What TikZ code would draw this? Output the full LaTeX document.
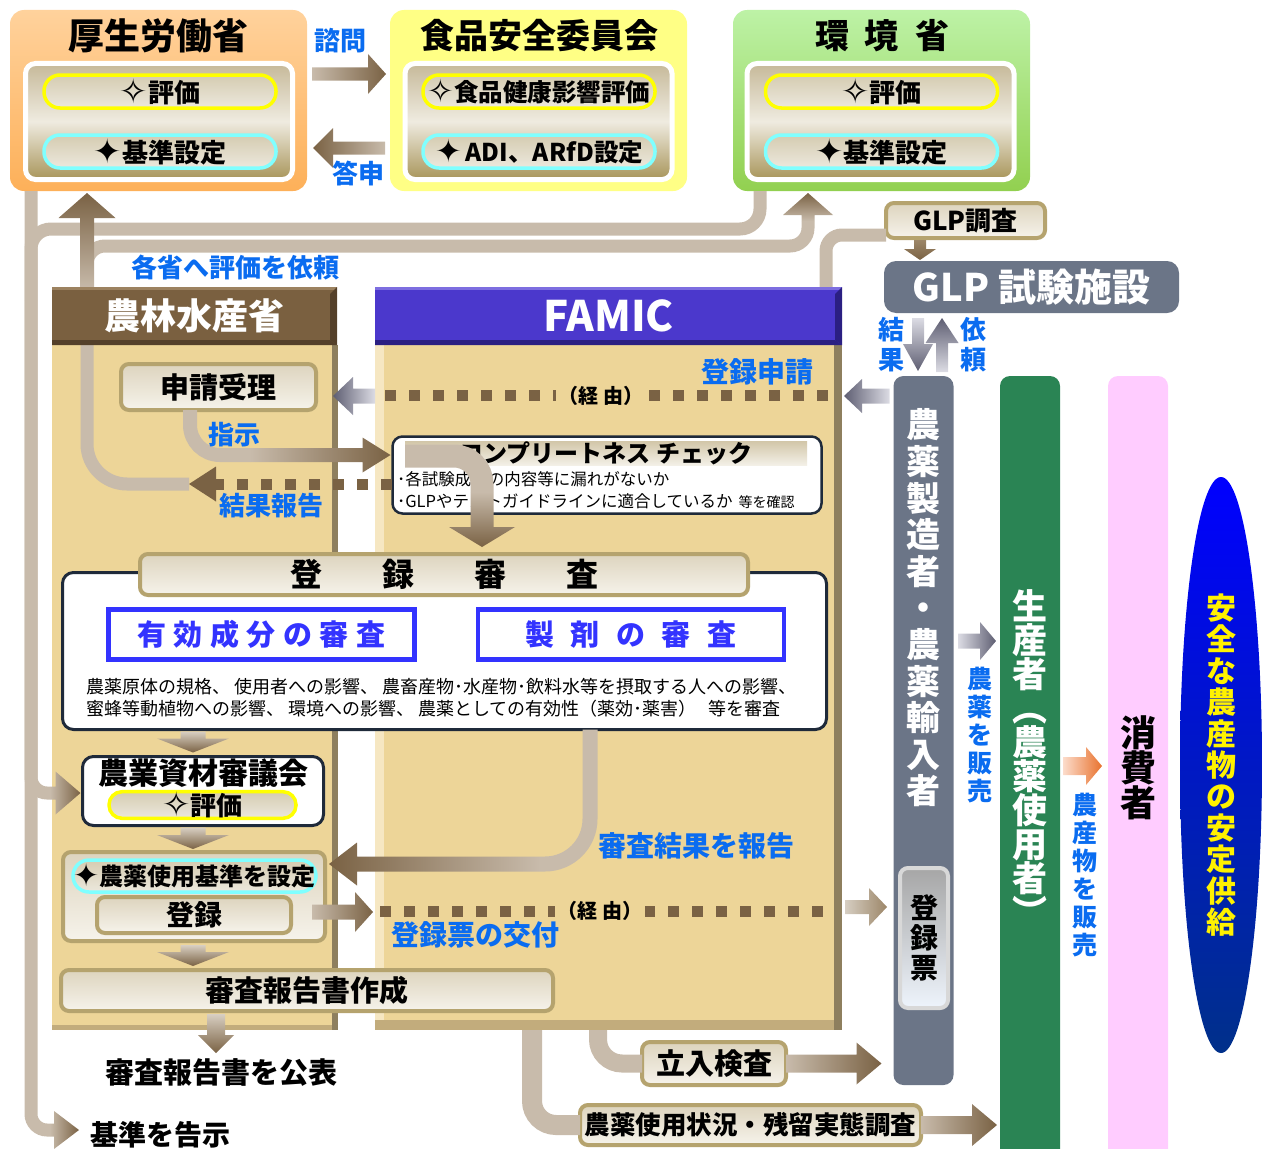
\documentclass[tikz,border=0pt]{standalone}
\usepackage{graphicx}
\usepackage{fontspec}
\setmainfont{Noto Sans CJK JP}
\newfontfamily\dingfont{DejaVu Sans}
\usetikzlibrary{
	arrows.meta,
	positioning,
	shapes.geometric,
	calc,
}
\definecolor{OrangeTop}{HTML}{FFD29C}
\definecolor{OrangeBot}{HTML}{FDB059}
\definecolor{YellowBox}{HTML}{FFFF85}
\definecolor{GreenTop}{HTML}{BDF2A6}
\definecolor{GreenBot}{HTML}{92D050}
\definecolor{PanelTop}{HTML}{C6B999}
\definecolor{PanelMid}{HTML}{EFEBE0}
\definecolor{PanelBot}{HTML}{A8955A}
\definecolor{PillTop}{HTML}{D5CCB1}
\definecolor{PillBot}{HTML}{ECE8DD}
\definecolor{PillYellow}{HTML}{FFFF00}
\definecolor{PillCyan}{HTML}{80FFFF}
\definecolor{TriTop}{HTML}{B9AB92}
\definecolor{TriBot}{HTML}{7C6850}
\definecolor{PlateEdge}{HTML}{B5A36E}
\definecolor{PlateTop}{HTML}{DDD4BE}
\definecolor{PlateBot}{HTML}{F6F3EB}
\definecolor{StripTop}{HTML}{D2C6A8}
\definecolor{StripBot}{HTML}{F3F0E7}
\definecolor{BandTan}{HTML}{C8BBAB}
\definecolor{SmallTop}{HTML}{D8CFC2}
\definecolor{ArrowBrown}{HTML}{7A6244}
\definecolor{DotBrown}{HTML}{7A6244}
\definecolor{LabelBlue}{HTML}{0A6CF0}
\definecolor{BodyTan}{HTML}{EDD598}
\definecolor{BodyLight}{HTML}{F6E7C2}
\definecolor{BodyShadow}{HTML}{8E7F5E}
\definecolor{BodyEdge}{HTML}{C2AC7C}
\definecolor{HeadBrown}{HTML}{7A6040}
\definecolor{HeadLight}{HTML}{9C8260}
\definecolor{HeadDark}{HTML}{54402A}
\definecolor{FamicPurple}{HTML}{4B38CC}
\definecolor{FamicLight}{HTML}{7D6EE0}
\definecolor{FamicDark}{HTML}{2B1F82}
\definecolor{BoxLine}{HTML}{1F2A3A}
\definecolor{ReviewBlue}{HTML}{3333FF}
\definecolor{GrayBar}{HTML}{6B7587}
\definecolor{GrayLight}{HTML}{DCDCE4}
\definecolor{GrayDark}{HTML}{5E5E72}
\definecolor{GreenBar}{HTML}{2A8454}
\definecolor{PinkBar}{HTML}{FFCCFF}
\definecolor{EllTop}{HTML}{0000FF}
\definecolor{EllBot}{HTML}{00308A}
\definecolor{OrangeLight}{HTML}{FCDCCB}
\definecolor{OrangeDark}{HTML}{E8722E}
\definecolor{TicketRim}{HTML}{D8D8D8}
\definecolor{TicketTop}{HTML}{A6A6A6}
\definecolor{TicketBot}{HTML}{EEF4FC}
\definecolor{TicketArrowL}{HTML}{D6CEC2}
\definecolor{TicketArrowR}{HTML}{9C8668}
\newcommand{\fsz}[2]{\fontsize{#1}{#2}\selectfont}
\newcommand{\tightlines}{\lineskiplimit=-40pt\relax}
\newcommand{\wstar}{\raisebox{-1pt}{\scalebox{1.3}{\dingfont\bfseries ✧}}}
\newcommand{\bstar}{\raisebox{-1pt}{\scalebox{1.3}{\dingfont\bfseries ✦}}}

\begin{document}
\begin{tikzpicture}[x=1pt,y=-1pt,
        every node/.style={align=center,inner sep=0pt,outer sep=0pt},
        ministry/.style={rounded corners=14pt,minimum width=297pt,minimum height=181pt},
        headline/.style={font=\bfseries\fsz{36}{40}},
        panel/.style={rounded corners=10pt,draw=white,line width=5pt,top color=PanelTop,bottom color=PanelBot,middle color=PanelMid,minimum width=267pt,minimum height=116pt},
        pill/.style={rounded corners=16pt,line width=3.5pt,top color=PillTop,bottom color=PillBot,minimum width=232pt,minimum height=33pt,font=\bfseries\fsz{26}{30}},
        evalpill/.style={pill,draw=PillYellow},
        stdpill/.style={pill,draw=PillCyan},
        plate/.style={rounded corners=8pt,draw=PlateEdge,line width=4pt,top color=PlateTop,bottom color=PlateBot,font=\bfseries\fsz{29}{32}},
        body/.style={fill=BodyTan,minimum height=685pt},
        whitebox/.style={draw=BoxLine,line width=3pt,rounded corners=11pt,fill=white},
        bluebox/.style={draw=ReviewBlue,line width=4.5pt,fill=white,minimum width=306pt,minimum height=50pt,text=ReviewBlue,font=\bfseries\fsz{29}{32}},
        bar/.style={rounded corners=10pt,minimum width=60pt},
        vtext/.style={font=\bfseries\fsz{34}{36.6}},
        lbl/.style={text=LabelBlue,font=\bfseries\fsz{26}{30}},
        via/.style={fill=BodyTan,inner xsep=3pt,inner ysep=2pt,font=\bfseries\fsz{20}{24}},
        band/.style={draw=BandTan,line width=13pt},
        dots/.style={draw=DotBrown,line width=11pt,dash pattern=on 11pt off 13pt},
        blockto/.style n args={3}{to path={let \p1=(\tikztostart),\p2=(\tikztotarget),\p3=($(\p2)!#3!(\p1)$) in
            ($(\p1)!#1!90:(\p2)$) -- ($(\p3)!#1!-90:(\p1)$) -- ($(\p3)!#2!-90:(\p1)$) -- (\p2)
            -- ($(\p3)!#2!90:(\p1)$) -- ($(\p3)!#1!90:(\p1)$) -- ($(\p1)!#1!-90:(\p2)$) -- cycle}}
    ]
    \useasboundingbox (0,0) rectangle (1263,1148);

    % ministries on top
    \node at (158.5,100.5) [ministry,top color=OrangeTop,bottom color=OrangeBot] (mhlw) {};
    \node at (158,36) [headline] (mhlwT) {厚生労働省};
    \node at (159,121.5) [panel] (mhlwP) {};
    \node at (160,91.5) [evalpill] (mhlwE) {\wstar{}評価};
    \node at (160,151.5) [stdpill] (mhlwS) {\bstar{}基準設定};
    \shade[top color=TriTop,bottom color=TriBot] ($(mhlwE.south)+(0,7)$) to[blockto={0pt}{29pt}{13pt}] ($(mhlwE.south)+(0,20)$);

    \node at (538.5,100.5) [ministry,fill=YellowBox] (fsc) {};
    \node at (539,36) [headline,font=\bfseries\fsz{34}{38}] (fscT) {食品安全委員会};
    \node at (538.5,121.5) [panel] (fscP) {};
    \node at (539,91.5) [evalpill,font=\bfseries\fsz{24.5}{28}] (fscE) {\wstar{}食品健康影響評価};
    \node at (539,151.5) [stdpill,font=\bfseries\fsz{24.5}{28}] (fscS) {\bstar\,ADI、ARfD設定};
    \shade[top color=TriTop,bottom color=TriBot] ($(fscE.south)+(0,7)$) to[blockto={0pt}{29pt}{13pt}] ($(fscE.south)+(0,20)$);

    \node at (881.5,100.5) [ministry,top color=GreenTop,bottom color=GreenBot] (moe) {};
    \node at (882,36) [headline,font=\bfseries\fsz{34}{38}] (moeT) {環\hspace{16pt}境\hspace{16pt}省};
    \node at (880.5,121.5) [panel] (moeP) {};
    \node at (881.5,91.5) [evalpill] (moeE) {\wstar{}評価};
    \node at (881.5,151.5) [stdpill] (moeS) {\bstar{}基準設定};
    \shade[top color=TriTop,bottom color=TriBot] ($(moeE.south)+(0,7)$) to[blockto={0pt}{29pt}{13pt}] ($(moeE.south)+(0,20)$);

    \node at (340,41) [lbl] (askL) {諮問};
    \node at (358,174) [lbl] (ansL) {答申};
    \shade[left color=BandTan,right color=ArrowBrown] ($(mhlw.east)+(5,-26.5)$) to[blockto={6.5pt}{20pt}{18pt}] ($(fsc.west)+(-4,-26.5)$);
    \shade[left color=ArrowBrown,right color=BandTan] ($(fsc.west)+(-5,47.5)$) to[blockto={6.5pt}{20pt}{20pt}] ($(mhlw.east)+(6,47.5)$);

    % bodies of MAFF and FAMIC
    \node at (195,687.5) [body,minimum width=286pt] (maffB) {};
    \node at (608.5,687.5) [body,minimum width=467pt] (famicB) {};
    \fill[BodyShadow] ($(maffB.north east)+(-6,0)$) rectangle (maffB.south east);
    \fill[BodyEdge] ($(maffB.south west)+(0,-5)$) rectangle ($(maffB.south east)+(-6,0)$);
    \fill[BodyLight] (famicB.north west) rectangle ($(famicB.south west)+(9,0)$);
    \fill[BodyShadow] ($(famicB.north east)+(-8,0)$) rectangle (famicB.south east);
    \fill[BodyEdge] ($(famicB.south west)+(0,-10)$) rectangle ($(famicB.south east)+(-8,0)$);

    \node at (965.5,220.5) [plate,minimum width=159pt,minimum height=35pt,font=\bfseries\fsz{26}{28}] (glpc) {GLP調査};

    % bands between the ministries
    \coordinate (mhlwOut) at ($(mhlw.south west)+(21,0)$);
    \coordinate (mhlwIn) at ($(mhlw.south west)+(77,2)$);
    \coordinate (moeOut) at ($(moe.south west)+(27,0)$);
    \coordinate (moeIn) at ($(moe.south west)+(75,2)$);
    \coordinate (upA) at (87,290);
    \coordinate (moeTurn) at (808,246);
    \coordinate (moeUp) at (808,221);
    \coordinate (leftJoin) at (31,229);
    \coordinate (leftDown) at (31,300);
    \coordinate (retTip) at (189,484);
    \coordinate (shingiS) at (50,793);
    \coordinate (kokujiS) at (50,1130);
    \coordinate (kokujiT) at (79,1130);
    \coordinate (glpS) at (826,290);
    \draw[band,rounded corners=40pt] (retTip) -| (upA);
    \draw[band,rounded corners=18pt] (upA) |- (moeTurn) -- (moeUp);
    \draw[band,rounded corners=20pt] (moeOut) |- (leftJoin) -- (leftDown);
    \draw[band,rounded corners=16pt] (mhlwOut) |- (kokujiS);
    \draw[band,rounded corners=16pt] (leftDown) |- (shingiS);
    \draw[band,rounded corners=16pt] (glpS) |- ($(glpc.west)+(0,14.5)$);
    \shade[top color=ArrowBrown,bottom color=BandTan] (upA) to[blockto={7pt}{28.5pt}{25pt}] (mhlwIn);
    \shade[top color=ArrowBrown,bottom color=BandTan] (moeUp) to[blockto={6.5pt}{25pt}{22pt}] (moeIn);
    \shade[left color=BandTan,right color=ArrowBrown] (kokujiS) to[blockto={6.5pt}{19pt}{25pt}] (kokujiT);
    \node at (235,268) [lbl] (askAll) {各省へ評価を依頼};

    % headers
    \node at (194.5,316) [minimum width=285pt,minimum height=58pt,fill=HeadBrown,text=white,font=\bfseries\fsz{36}{40}] (maffH) {農林水産省};
    \fill[HeadLight] (maffH.north west) rectangle ($(maffH.north east)+(0,3)$);
    \fill[HeadDark] (maffH.north east) -- (maffH.south east) -- ($(maffH.south east)+(-7,-5)$) -- ($(maffH.north east)+(-7,7)$) -- cycle;
    \fill[HeadDark] (maffH.south west) -- (maffH.south east) -- ($(maffH.south east)+(-7,-5)$) -- ($(maffH.south west)+(0,-5)$) -- cycle;
    \node at (608.5,316) [minimum width=467pt,minimum height=58pt,fill=FamicPurple,text=white,font=\bfseries\fsz{42}{46}] (famicH) {FAMIC};
    \fill[FamicLight] (famicH.north west) rectangle ($(famicH.north east)+(0,3)$);
    \fill[FamicDark] (famicH.north east) -- (famicH.south east) -- ($(famicH.south east)+(-7,-5)$) -- ($(famicH.north east)+(-7,7)$) -- cycle;
    \fill[FamicDark] (famicH.south west) -- (famicH.south east) -- ($(famicH.south east)+(-7,-5)$) -- ($(famicH.south west)+(0,-5)$) -- cycle;

    % application
    \node at (218.5,387) [plate,minimum width=195pt,minimum height=46pt] (juri) {申請受理};
    \draw[dots] ($(famicB.north east)+(-14,50)$) -- ($(famicB.north west)+(10,50)$);
    \node at (601,396) [via] (via1) {（経 由）};
    \node at (757,372) [lbl,font=\bfseries\fsz{28}{30}] (regL) {登録申請};
    \shade[left color=GrayDark,right color=GrayLight] ($(famicB.north west)+(0,51)$) to[blockto={7.5pt}{19pt}{20pt}] ($(juri.east)+(17,9)$);

    % completeness check
    \node at (607,475) [whitebox,line width=2.5pt,rounded corners=10pt,minimum width=429pt,minimum height=77pt] (comp) {};
    \node at (606,453) [top color=StripTop,bottom color=StripBot,minimum width=402pt,minimum height=24pt,font=\bfseries\fsz{24}{26}] (compTitle) {コンプリートネス チェック};
    \node at (397,479) [anchor=west,font=\fsz{16.5}{20}] (compL1) {･各試験成績の内容等に漏れがないか};
    \node at (397,501) [anchor=west,font=\fsz{16.5}{20}] (compL2) {･GLPやテストガイドラインに適合しているか\hspace{6pt}{\fsz{14}{16}等を確認}};
    \coordinate (compIn) at (405,456);
    \coordinate (compBend) at (482,492);
    \coordinate (compOut) at (482,547);
    \draw[band,line width=23pt,rounded corners=28pt] (compIn) -| (compBend);
    \shade[top color=BandTan,bottom color=ArrowBrown] (compBend) to[blockto={11.5pt}{33pt}{20pt}] (compOut);

    \coordinate (shijiM) at (250,455);
    \draw[band,line width=14pt,rounded corners=30pt] ($(juri.south)+(-28.5,0)$) |- (shijiM);
    \shade[left color=BandTan,right color=ArrowBrown] (shijiM) to[blockto={7pt}{17.5pt}{28pt}] ($(comp.west)+(-2,-20)$);
    \node at (234,435) [lbl] (shijiL) {指示};
    \draw[dots,-{Triangle[width=35pt,length=27pt,line width=0pt]}] ($(comp.west)+(-1,9)$) -- (retTip);
    \node at (271,506) [lbl] (kekkaL) {結果報告};

    % registration review
    \node at (444.5,651) [whitebox,minimum width=764pt,minimum height=157pt] (toroku) {};
    \node at (444,574.5) [plate,minimum width=608pt,minimum height=41pt,font=\bfseries\fsz{32}{34}] (torokuH) {登\hspace{60pt}録\hspace{60pt}審\hspace{60pt}査};
    \node at (261.5,634.5) [bluebox] (yuukou) {有\hspace{7.5pt}効\hspace{7.5pt}成\hspace{7.5pt}分\hspace{7.5pt}の\hspace{7.5pt}審\hspace{7.5pt}査};
    \node at (631,634.5) [bluebox] (seizai) {製\hspace{16.5pt}剤\hspace{16.5pt}の\hspace{16.5pt}審\hspace{16.5pt}査};
    \node at (86,687) [anchor=west,font=\fsz{18}{21}] (descA) {農薬原体の規格、 使用者への影響、 農畜産物･水産物･飲料水等を摂取する人への影響、};
    \node at (86,709) [anchor=west,font=\fsz{18}{21}] (descB) {蜜蜂等動植物への影響、 環境への影響、 農薬としての有効性（薬効･薬害）\hspace{12pt}等を審査};

    % council and registration
    \node at (203,791) [whitebox,minimum width=241pt,minimum height=69pt] (shingi) {};
    \node at (203,773) [font=\bfseries\fsz{30}{32}] (shingiT) {農業資材審議会};
    \node at (202.5,805) [evalpill,rounded corners=13pt,minimum width=187pt,minimum height=26pt] (shingiE) {\wstar{}評価};
    \node at (194,896.5) [plate,minimum width=262pt,minimum height=89pt] (shiyou) {};
    \node at (194.5,876) [stdpill,minimum width=243pt,minimum height=32pt,font=\bfseries\fsz{24}{26}] (shiyouS) {\bstar{}農薬使用基準を設定};
    \node at (194,915) [plate,minimum width=194pt,minimum height=36pt,font=\bfseries\fsz{28}{30}] (touroku) {登録};
    \node at (307,990.5) [plate,minimum width=492pt,minimum height=41pt] (hokoku) {審査報告書作成};
    \node at (221,1072) [font=\bfseries\fsz{29}{32}] (kouhyou) {審査報告書を公表};
    \node at (160,1135) [font=\bfseries\fsz{28}{32}] (kokuji) {基準を告示};

    \shade[left color=BandTan,right color=ArrowBrown] (shingiS) to[blockto={6.5pt}{21.5pt}{25pt}] ($(shingi.west)+(-2,2)$);
    \shade[top color=SmallTop,bottom color=ArrowBrown] ($(toroku.south)+(-251.5,2)$) to[blockto={12.5pt}{36pt}{14pt}] ($(shingi.north)+(-10,-4)$);
    \shade[top color=SmallTop,bottom color=ArrowBrown] ($(shingi.south)+(-10,2)$) to[blockto={12.5pt}{36pt}{14pt}] ($(shiyou.north)+(-1,-3)$);
    \shade[top color=SmallTop,bottom color=ArrowBrown] ($(shiyou.south)+(-1,4)$) to[blockto={12.5pt}{36pt}{14pt}] ($(hokoku.north)+(-114,-4)$);
    \shade[top color=SmallTop,bottom color=ArrowBrown] ($(hokoku.south)+(-91,3)$) to[blockto={9pt}{18pt}{18pt}] ($(hokoku.south)+(-91,42)$);

    \coordinate (kekkaM) at (540,864);
    \draw[band,line width=15pt,rounded corners=45pt] ($(toroku.south)+(145.5,0)$) |- (kekkaM);
    \shade[left color=ArrowBrown,right color=BandTan] (kekkaM) to[blockto={7.5pt}{21.5pt}{28pt}] ($(shiyou.east)+(4,-32.5)$);
    \node at (696,846) [lbl,font=\bfseries\fsz{28}{30}] (kekkaR) {審査結果を報告};

    % right hand columns
    \node at (1031.5,287) [fill=GrayBar,rounded corners=12pt,minimum width=295pt,minimum height=52pt,text=white,font=\bfseries\fsz{38}{40}] (glpf) {GLP 試験施設};
    \node at (923.5,730.5) [bar,fill=GrayBar,minimum height=709pt] (gray) {};
    \node at (923.5,608) [vtext,text=white] (grayT) {農\\薬\\製\\造\\者\\・\\農\\薬\\輸\\入\\者};
    \node at (924,938) [rounded corners=8pt,draw=TicketRim,line width=4pt,top color=TicketTop,bottom color=TicketBot,minimum width=48pt,minimum height=140pt,font=\bfseries\fsz{28}{30}] (ticket) {登\\録\\票};
    \node at (1030,768) [bar,fill=GreenBar,minimum height=784pt] (green) {};
    \node at (1030,758) [text=white,font=\bfseries\fsz{35}{34}\tightlines] (greenT) {生\\産\\者\\︵\\農\\薬\\使\\用\\者\\︶};
    \node at (1138,768) [bar,fill=PinkBar,minimum height=784pt,font=\bfseries\fsz{36}{35}\tightlines] (pink) {消\\費\\者};
    \node at (1221,765) [ellipse,minimum width=82pt,minimum height=576pt,top color=EllTop,bottom color=EllBot,text=yellow,font=\bfseries\fsz{30}{31.4}\tightlines] (supply) {安\\全\\な\\農\\産\\物\\の\\安\\定\\供\\給};

    \shade[top color=TicketArrowR,bottom color=ArrowBrown] ($(glpc.south)+(-45.5,2)$) to[blockto={6pt}{16pt}{11pt}] ($(glpf.north)+(-111.5,-1)$);
    \shade[top color=GrayLight,bottom color=GrayDark] ($(glpf.south)+(-113.5,5)$) to[blockto={6pt}{15pt}{27pt}] ($(gray.north)+(-5.5,-5)$);
    \shade[top color=GrayDark,bottom color=GrayLight] ($(gray.north)+(18.5,-4)$) to[blockto={6pt}{16.5pt}{25pt}] ($(glpf.south)+(-89.5,5)$);
    \node at (891,345) [lbl] (resL) {結\\果};
    \node at (973,345) [lbl] (reqL) {依\\頼};
    \shade[left color=GrayDark,right color=GrayLight] ($(gray.north west)+(-4,20)$) to[blockto={7.5pt}{17pt}{18pt}] ($(famicB.north east)+(2,51)$);

    % issuing the certificate
    \shade[left color=BandTan,right color=ArrowBrown] ($(touroku.east)+(21,-3)$) to[blockto={7.5pt}{20pt}{18pt}] ($(touroku.east)+(82,-3)$);
    \draw[dots] ($(touroku.east)+(89,-4)$) -- ($(famicB.east |- touroku.east)+(-12,-4)$);
    \node at (600,911) [via] (via2) {（経 由）};
    \node at (475,935) [lbl,font=\bfseries\fsz{28}{30}] (koufuL) {登録票の交付};
    \shade[left color=TicketArrowL,right color=TicketArrowR] ($(famicB.east |- touroku.east)+(3,-8)$) to[blockto={7pt}{19pt}{18pt}] ($(ticket.west |- touroku.east)+(-13,-8)$);

    % selling
    \shade[left color=GrayLight,right color=GrayDark] ($(gray.east)+(4.5,-89.5)$) to[blockto={7.5pt}{19pt}{16pt}] ($(green.west)+(-4,-127)$);
    \node at (980,735) [lbl,font=\bfseries\fsz{25}{28}] (sellL) {農\\薬\\を\\販\\売};
    \shade[left color=OrangeLight,right color=OrangeDark] ($(green.east)+(3,-2)$) to[blockto={9pt}{19pt}{16pt}] ($(pink.west)+(-6,-2)$);
    \node at (1085,875) [lbl,font=\bfseries\fsz{25}{28}] (cropL) {農\\産\\物\\を\\販\\売};

    % inspections
    \node at (714,1063.5) [plate,minimum width=144pt,minimum height=43pt] (tachi) {立入検査};
    \node at (750.5,1125) [plate,minimum width=341pt,minimum height=40pt,font=\bfseries\fsz{25.5}{28}] (zanryu) {農薬使用状況・残留実態調査};
    \draw[band,line width=18pt,rounded corners=24pt] ($(famicB.south)+(-10.5,0)$) |- (tachi.west);
    \draw[band,line width=20pt,rounded corners=24pt] ($(famicB.south)+(-76.5,0)$) |- (zanryu.west);
    \shade[left color=BandTan,right color=ArrowBrown] (tachi.east) to[blockto={9pt}{21pt}{25pt}] ($(gray.west |- tachi.east)+(-12,0)$);
    \shade[left color=BandTan,right color=ArrowBrown] (zanryu.east) to[blockto={9pt}{21pt}{25pt}] ($(green.west |- zanryu.east)+(-3,0)$);
\end{tikzpicture}
\end{document}
